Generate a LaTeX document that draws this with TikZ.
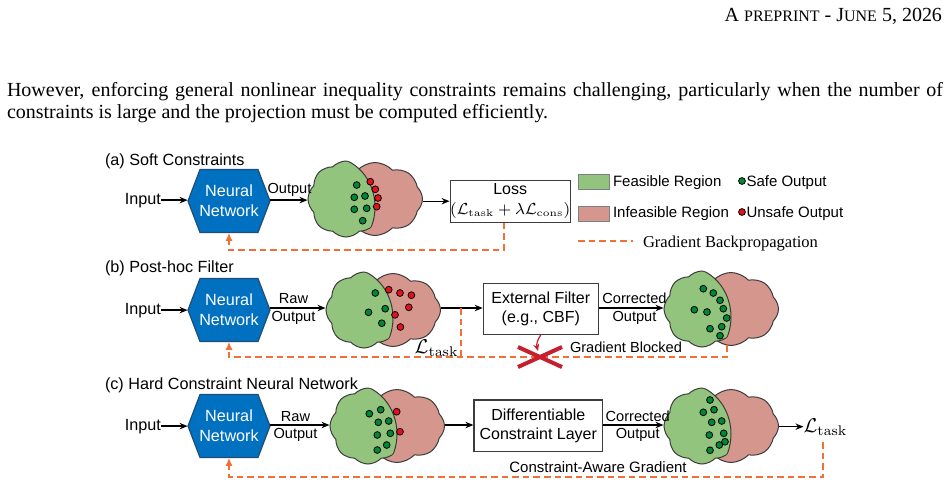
\documentclass[tikz,border=0pt]{standalone}
\usepackage[no-math]{fontspec}
\setmainfont{Liberation Serif}
\setsansfont{Liberation Sans}
\usetikzlibrary{shapes.symbols,arrows.meta}
\definecolor{feas}{RGB}{147,196,125}
\definecolor{infeas}{RGB}{213,150,141}
\definecolor{nnblue}{RGB}{0,112,192}
\definecolor{nnedge}{RGB}{31,78,121}
\definecolor{gorange}{RGB}{242,112,54}
\definecolor{safeg}{RGB}{0,135,55}
\definecolor{unsafer}{RGB}{232,17,27}
\definecolor{xred}{RGB}{198,32,46}
\definecolor{edgegray}{RGB}{60,60,60}
\newcommand{\fbig}{\fontsize{8.1}{10}\selectfont\sffamily}
\newcommand{\fsm}{\fontsize{7.3}{8.7}\selectfont\sffamily}
\newcommand{\fleg}{\fontsize{7.5}{9}\selectfont\sffamily}
\newcommand{\fbx}{\fontsize{8}{9.6}\selectfont\sffamily}
\newcommand{\mkHex}[3]{%
  \path[fill=nnblue, draw=nnedge, line width=0.6pt] (#2,#3) +(-41,0) -- +(-29,-31.5) -- +(29,-31.5) -- +(41,0) -- +(29,31.5) -- +(-29,31.5) -- cycle;
  \node[hexbox] (#1) at (#2,#3) {Neural\\Network};}
\newcommand{\mkCloud}[3]{%
  \node[redcloud] (r#1) at (#2+10,#3) {};
  \coordinate (e#1) at (#2-35,#3+8);
  \begin{scope}
    \clip (e#1) ellipse [x radius=45, y radius=50];
    \node[greencloud] (g#1) at (#2-19,#3) {};
  \end{scope}
  \node[greencloud, draw=none, fill=none, path picture={\draw[cedge] (e#1) ellipse [x radius=45, y radius=50];}] at (#2-19,#3) {};}
\newcommand{\safedot}[2]{\fill[safeg, draw=black, line width=0.4pt] (#1,#2) circle [radius=3.4];}
\newcommand{\unsafedot}[2]{\fill[unsafer, draw=black, line width=0.4pt] (#1,#2) circle [radius=3.4];}
\begin{document}
\begin{tikzpicture}[x=0.5pt,y=-0.5pt,
  arr/.style={-{Stealth[length=4pt,width=3.2pt]}, line width=0.65pt, draw=black},
  grad/.style={draw=gorange, line width=0.75pt, dash pattern=on 3.3pt off 2pt},
  gtip/.style={-{Latex[length=4pt,width=3.6pt]}},
  lbl/.style={inner sep=0pt, outer sep=0pt},
  hexbox/.style={rectangle, minimum width=41pt, minimum height=31.5pt, inner sep=0pt, text=white, align=center, font=\fbig},
  procbox/.style={rectangle, draw=edgegray, line width=0.6pt, fill=white, align=center, inner sep=0pt, font=\fbx},
  redcloud/.style={cloud, cloud puffs=8, cloud puff arc=95, cloud ignores aspect, minimum width=47.5pt, minimum height=36.5pt, inner sep=0pt, fill=infeas, draw=edgegray, line width=0.5pt},
  greencloud/.style={cloud, cloud puffs=8, cloud puff arc=95, cloud ignores aspect, minimum width=38pt, minimum height=38pt, inner sep=0pt, fill=feas, draw=edgegray, line width=0.5pt},
  cedge/.style={draw=edgegray, line width=0.5pt},
  legrect/.style={rectangle, minimum width=15.5pt, minimum height=7.5pt, inner sep=0pt, draw=gray, line width=0.4pt},
]
\fill[white] (0,0) rectangle (950,484);
\useasboundingbox (0,0) rectangle (950,484);

% header and body text
\node[lbl, anchor=base east, font=\fontsize{10}{12}\selectfont] (hdr) at (942,21) {A {\fontsize{8}{9.6}\selectfont PREPRINT} - J{\fontsize{8}{9.6}\selectfont UNE} 5, 2026};
\node[lbl, anchor=base west, font=\fontsize{10}{12}\selectfont] (bodyA) at (7,96.5) {\makebox[468pt][s]{However, enforcing general nonlinear inequality constraints remains challenging, particularly when the number of}};
\node[lbl, anchor=base west, font=\fontsize{10}{12}\selectfont] (bodyB) at (7,118) {constraints is large and the projection must be computed efficiently.};

% ---------- row (a)
\node[lbl, font=\fbig, anchor=base west] (labA) at (105,165) {(a) Soft Constraints};
\node[lbl, font=\fbig, anchor=base east] (inA) at (161,204) {Input};
\mkHex{nnA}{229}{201}
\mkCloud{A}{365}{199}
\safedot{356.7}{185}\safedot{354.3}{197.3}\safedot{365}{196}\safedot{354.3}{209.3}\safedot{366.7}{208.3}\safedot{362.7}{220.7}
\unsafedot{370.3}{181.7}\unsafedot{375.3}{189.3}\unsafedot{378}{198}\unsafedot{376.7}{206.7}
\node[procbox, minimum width=57.5pt, minimum height=21pt] (lossA) at (510.2,201.2) {Loss\\[0.5pt]{\fontsize{7.8}{9}\selectfont$(\mathcal{L}_{\mathrm{task}}+\lambda\mathcal{L}_{\mathrm{cons}})$}};
\node[lbl, font=\fsm, anchor=base] (outA) at (289.5,193) {Output};
\draw[arr] (inA.east) -- (inA.east -| nnA.west);
\draw[arr] (nnA.east |- inA.east) -- (gA.west |- inA.east);
\draw[arr] (rA.east |- lossA.west) -- (lossA.west);
\draw[grad, gtip] ([xshift=-3pt]lossA.south) -- ++(0,27) -| (nnA.south);

% legend
\node[legrect, fill=feas] (lgF) at (593.5,181.5) {};
\node[legrect, fill=infeas] (lgI) at (593.5,213.5) {};
\node[lbl, font=\fleg, anchor=base west] (lgFt) at (613,186.4) {Feasible Region};
\node[lbl, font=\fleg, anchor=base west] (lgIt) at (613,217.7) {Infeasible Region};
\safedot{742}{181}
\unsafedot{742}{212}
\node[lbl, font=\fleg, anchor=base west] (lgSt) at (746.5,186.4) {Safe Output};
\node[lbl, font=\fleg, anchor=base west] (lgUt) at (746.5,217.7) {Unsafe Output};
\coordinate (lgA) at (578,241);
\coordinate (lgB) at (633,241);
\draw[grad] (lgA) -- (lgB);
\node[lbl, font=\fontsize{8.27}{10}\selectfont\rmfamily, anchor=base west] (lgGt) at (643,247) {Gradient Backpropagation};

% ---------- row (b)
\node[lbl, font=\fbig, anchor=base west] (labB) at (105,272) {(b) Post-hoc Filter};
\node[lbl, font=\fbig, anchor=base east] (inB) at (161,314) {Input};
\mkHex{nnB}{229}{310}
\mkCloud{B}{383}{310}
\safedot{375.3}{293}\safedot{368.5}{312.3}\safedot{385.2}{308.7}\safedot{381.8}{323.2}
\unsafedot{388.7}{289.7}\unsafedot{400}{293}\unsafedot{411.4}{295.2}\unsafedot{408.8}{307.3}\unsafedot{395}{314.8}\unsafedot{400.4}{327}
\mkCloud{E}{721}{309}
\safedot{703.3}{288.7}\safedot{713.3}{293}\safedot{720}{300.3}\safedot{723.3}{308.7}\safedot{694.3}{309.7}\safedot{707}{312}\safedot{726.7}{318}\safedot{721.7}{326.7}\safedot{710}{328.7}\safedot{720}{335.7}
\node[procbox, minimum width=57.5pt, minimum height=25.5pt, font=\fontsize{8}{9.7}\selectfont\sffamily] (filtB) at (540.8,308.7) {External Filter\\(e.g., CBF)};
\node[lbl, font=\fsm, align=center] (rawB) at (293.5,309) {Raw\\Output};
\node[lbl, font=\fsm, align=center] (corB) at (634.5,308.7) {Corrected\\Output};
\coordinate (yB) at (0,308);
\draw[arr] (inB.east) -- (inB.east -| nnB.west);
\draw[arr] (nnB.east |- yB) -- (gB.west |- yB);
\draw[arr] (rB.east |- yB) -- (filtB.west |- yB);
\draw[arr] (filtB.east |- yB) -- (gE.west |- yB);
\coordinate (tapB) at (461,308);
\coordinate (endB) at (727,345);
\draw[grad, gtip] (endB) -- (727,357) -| (nnB.south);
\draw[grad] (tapB) -- (tapB |- 0,357);
\node[lbl, font=\fontsize{10}{12}\selectfont, anchor=base east] (ltB) at (458.5,353) {$\mathcal{L}_{\mathrm{task}}$};
\node[lbl, font=\fsm, anchor=base west] (gbB) at (570,352) {Gradient Blocked};
\node[lbl, minimum width=22pt, minimum height=10pt] (xB) at (540,357) {};
\draw[xred, line width=2pt] (xB.north west) -- (xB.south east) (xB.south west) -- (xB.north east);
\coordinate (xTop) at (538,351);
\draw[xred, line width=0.6pt, -{Stealth[length=3.5pt,width=3pt]}] (filtB.south) to[bend right=25] (xTop);

% ---------- row (c)
\node[lbl, font=\fbig, anchor=base west] (labC) at (105,389) {(c) Hard Constraint Neural Network};
\node[lbl, font=\fbig, anchor=base east] (inC) at (161,430) {Input};
\mkHex{nnC}{229}{426}
\mkCloud{C}{387}{426}
\safedot{369.3}{413.7}\safedot{380.7}{409.7}\safedot{378.3}{422.3}\safedot{388.7}{421}\safedot{377.3}{435}\safedot{390.3}{433.3}\safedot{386.7}{445}\safedot{377.3}{450}
\unsafedot{396.7}{411.7}\unsafedot{400}{431.7}
\mkCloud{D}{721}{426}
\safedot{710}{400}\safedot{703.3}{412.3}\safedot{714}{409.7}\safedot{711.7}{422.3}\safedot{721.7}{421}\safedot{709.3}{435}\safedot{723.7}{433.3}\safedot{725}{441.7}\safedot{719.3}{445}\safedot{710}{450.3}
\node[procbox, minimum width=64.3pt, minimum height=25.8pt, font=\fontsize{8}{9.2}\selectfont\sffamily] (diffC) at (538.3,425.8) {Differentiable\\Constraint Layer};
\node[lbl, font=\fsm, align=center] (rawC) at (295.5,426.4) {Raw\\Output};
\node[lbl, font=\fsm, align=center] (corC) at (637.7,426.4) {Corrected\\Output};
\node[lbl, font=\fontsize{10}{12}\selectfont, anchor=base west] (ltC) at (803.5,432) {$\mathcal{L}_{\mathrm{task}}$};
\coordinate (yC) at (0,425);
\coordinate (ltDown) at (823,442);
\draw[arr] (inC.east) -- (inC.east -| nnC.west);
\draw[arr] (nnC.east |- yC) -- (gC.west |- yC);
\draw[arr] (rC.east |- yC) -- (diffC.west |- yC);
\draw[arr] (diffC.east |- yC) -- (gD.west |- yC);
\draw[arr] (rD.east |- ltC.west) -- (ltC.west);
\draw[grad, gtip] (ltDown) -- (823,477) -| (nnC.south);
\node[lbl, font=\fontsize{7.5}{9}\selectfont\sffamily, anchor=base] (cagC) at (598,472) {Constraint-Aware Gradient};
\end{tikzpicture}
\end{document}
